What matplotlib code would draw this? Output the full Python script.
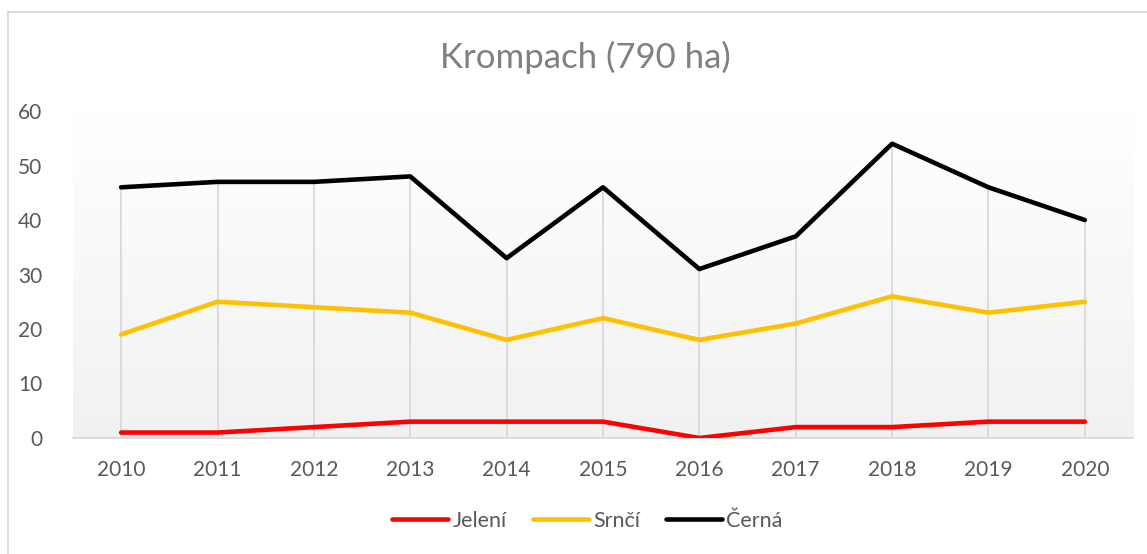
import matplotlib.pyplot as plt
import numpy as np
from matplotlib.colors import LinearSegmentedColormap
from matplotlib.lines import Line2D

plt.rcParams['font.family'] = ['Lato', 'DejaVu Sans']

years = ['2010', '2011', '2012', '2013', '2014', '2015', '2016', '2017', '2018', '2019', '2020']
jeleni = [1, 1, 2, 3, 3, 3, 0, 2, 2, 3, 3]
srnci = [19, 25, 24, 23, 18, 22, 18, 21, 26, 23, 25]
cerna = [46, 47, 47, 48, 33, 46, 31, 37, 54, 46, 40]
series_names = ['Jelení', 'Srnčí', 'Černá']
series_colors = ['#FF0000', '#FFC000', '#000000']

fig = plt.figure(figsize=(11.47, 5.54), dpi=100)
ax = fig.add_axes([0.0636, 0.2094, 0.9242, 0.5902])

x = np.arange(len(years))
ax.set_xlim(-0.5, len(years) - 0.5)
ax.set_ylim(0, 60)

# plot area gradient, white on top to light grey at the bottom
cmap = LinearSegmentedColormap.from_list('bg', ['#f1f1f1', '#ffffff'])
grad = np.linspace(0, 1, 256).reshape(-1, 1)
ax.imshow(grad, cmap=cmap, aspect='auto', origin='lower',
          extent=[-0.5, len(years) - 0.5, 0, 60], zorder=0)

# drop lines from the highest series down to the axis
tops = np.max([jeleni, srnci, cerna], axis=0)
ax.vlines(x, 0, tops, color='#d9d9d9', linewidth=1.3, zorder=1)

for vals, name, col in zip([jeleni, srnci, cerna], series_names, series_colors):
    ax.plot(x, vals, color=col, linewidth=3.3, label=name, zorder=3,
            solid_capstyle='round', solid_joinstyle='round')

for side in ['top', 'right', 'left']:
    ax.spines[side].set_visible(False)
ax.spines['bottom'].set_color('#d9d9d9')
ax.spines['bottom'].set_linewidth(1.3)

ax.set_xticks(x)
ax.set_xticklabels(years)
ax.set_yticks(range(0, 61, 10))
ax.tick_params(axis='both', length=0, labelsize=15, labelcolor='#595959')
ax.tick_params(axis='x', pad=16)
ax.tick_params(axis='y', pad=22)

fig.text(0.51, 0.897, 'Krompach (790 ha)', ha='center', va='center',
         fontsize=25, color='#808080')

handles = [Line2D([0], [0], color=c, linewidth=3.3, solid_capstyle='round')
           for c in series_colors]
fig.legend(handles, series_names, loc='center', bbox_to_anchor=(0.512, 0.06),
           ncol=3, frameon=False, fontsize=15.5, handlelength=2.6,
           handletextpad=0.2, columnspacing=1.2, labelcolor='#595959')

# chart border (only top and left edge visible in the crop)
fig.add_artist(Line2D([0.007, 1.0], [0.978, 0.978], color='#d9d9d9', linewidth=1.3))
fig.add_artist(Line2D([0.007, 0.007], [0.0, 0.978], color='#d9d9d9', linewidth=1.3))

fig.savefig('out.png', dpi=100)
